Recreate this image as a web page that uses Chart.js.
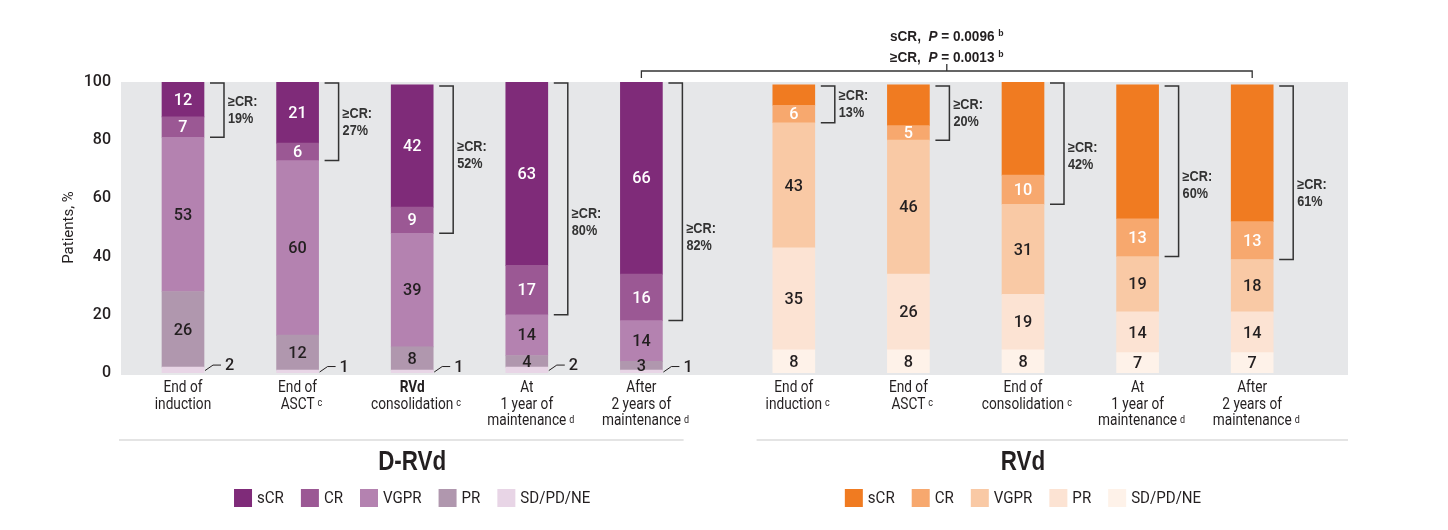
<!DOCTYPE html>
<html><head><meta charset="utf-8">
<script src="https://cdn.jsdelivr.net/npm/chart.js@4.4.0/dist/chart.umd.min.js"></script>
<style>html,body{margin:0;padding:0;background:#fff}#wrap{width:1448px;height:530px;position:relative}</style>
</head><body><div id="wrap"><canvas id="c"></canvas></div>
<script>
// ---------- DATA ----------
const groupNames = ['D-RVd', 'RVd'];
const seriesNames = ['sCR', 'CR', 'VGPR', 'PR', 'SD/PD/NE'];
const drCategories = [['End of', 'induction'], ['End of', 'ASCT'], ['RVd', 'consolidation'], ['At', '1 year of', 'maintenance'], ['After', '2 years of', 'maintenance']];
const drFootnotes = ['', 'c', 'c', 'd', 'd'];
const rvCategories = [['End of', 'induction'], ['End of', 'ASCT'], ['End of', 'consolidation'], ['At', '1 year of', 'maintenance'], ['After', '2 years of', 'maintenance']];
const rvFootnotes = ['c', 'c', 'c', 'd', 'd'];
const drSCR = [12, 21, 42, 63, 66];
const drCR = [7, 6, 9, 17, 16];
const drVGPR = [53, 60, 39, 14, 14];
const drPR = [26, 12, 8, 4, 3];
const drSD = [2, 1, 1, 2, 1];
const rvSCR = [7, 14, 32, 46, 47];
const rvCR = [6, 5, 10, 13, 13];
const rvVGPR = [43, 46, 31, 19, 18];
const rvPR = [35, 26, 19, 14, 14];
const rvSD = [8, 8, 8, 7, 7];
const drGeCR = [19, 27, 52, 80, 82];
const rvGeCR = [13, 20, 42, 60, 61];
const yTicks = [0, 20, 40, 60, 80, 100];
const pTests = [['sCR', '0.0096', 'b'], ['≥CR', '0.0013', 'b']];

// ---------- STYLE / LAYOUT ----------
const FF = "Roboto, 'Liberation Sans', Arial, sans-serif";
const FF2 = "'Liberation Sans', Arial, sans-serif";
const DARK = '#231f20';
const drColors = ['#7f2b79', '#9b5894', '#b482b0', '#b097ae', '#e8d5e6'];
const rvColors = ['#f07b21', '#f7a86e', '#f9c9a5', '#fce3d3', '#fef2e9'];
const GROUP_GAP = 0.33;
const BAR_W = 42;
const crLabelShift = [[0, 0, -4, 23, 35], [0, 0, 13, 14, 20]]; // px, annotation text placement

const xA = drSCR.map((_, i) => i);
const xB = rvSCR.map((_, i) => i + drSCR.length + GROUP_GAP);

function mk(label, vals, xs, color, group, key, lab) {
  return { label, data: vals.map((v, i) => ({ x: xs[i], y: v })), backgroundColor: color,
    borderWidth: 0, barThickness: BAR_W, stack: 's', group, key, lab };
}
const datasets = [
  mk('SD/PD/NE', drSD, xA, drColors[4], 0, 'SD', 'outside'),
  mk('PR', drPR, xA, drColors[3], 0, 'PR', DARK),
  mk('VGPR', drVGPR, xA, drColors[2], 0, 'VGPR', DARK),
  mk('CR', drCR, xA, drColors[1], 0, 'CR', '#fff'),
  mk('sCR', drSCR, xA, drColors[0], 0, 'sCR', '#fff'),
  mk('SD/PD/NE', rvSD, xB, rvColors[4], 1, 'SD', DARK),
  mk('PR', rvPR, xB, rvColors[3], 1, 'PR', DARK),
  mk('VGPR', rvVGPR, xB, rvColors[2], 1, 'VGPR', DARK),
  mk('CR', rvCR, xB, rvColors[1], 1, 'CR', '#fff'),
  mk('sCR', rvSCR, xB, rvColors[0], 1, 'sCR', null),
];

function font(o) { return (o.style || 'normal') + ' ' + (o.weight || 'normal') + ' ' + o.size + 'px ' + (o.family || FF); }
// text style with horizontal scale calibrated so that a sample string gets a target width
function calib(ctx, o, sample, target) {
  ctx.save(); ctx.font = font(o); const w = ctx.measureText(sample).width; ctx.restore();
  return { ...o, sx: target / w };
}
function measure(ctx, s, o) {
  ctx.save(); ctx.font = font(o);
  const w = ctx.measureText(s).width * (o.sx || 1); ctx.restore(); return w;
}
function txt(ctx, s, x, y, o) {
  const sx = o.sx || 1;
  ctx.save();
  ctx.font = font(o);
  ctx.fillStyle = o.color || DARK;
  ctx.textBaseline = 'middle'; ctx.textAlign = 'left';
  const w = ctx.measureText(s).width * sx;
  const x0 = o.align === 'center' ? x - w / 2 : o.align === 'right' ? x - w : x;
  ctx.translate(x0, y); ctx.scale(sx, 1); ctx.fillText(s, 0, 0);
  ctx.restore();
  return w;
}

const bgPlugin = {
  id: 'bg',
  beforeDraw(chart) {
    const { ctx, chartArea: a } = chart;
    ctx.save();
    ctx.fillStyle = '#fff'; ctx.fillRect(0, 0, chart.width, chart.height);
    ctx.fillStyle = '#e6e7e9'; ctx.fillRect(a.left, a.top, a.right - a.left, a.bottom - a.top + 2);
    ctx.restore();
  }
};

function findMeta(chart, group, key) {
  const i = chart.data.datasets.findIndex(d => d.group === group && d.key === key);
  return chart.getDatasetMeta(i);
}

const annoPlugin = {
  id: 'anno',
  afterDatasetsDraw(chart) {
    const ctx = chart.ctx;
    const VAL = calib(ctx, { size: 17, weight: '500' }, '53', 18.5);
    ctx.save();
    // value labels
    chart.data.datasets.forEach((ds, di) => {
      if (!ds.lab) return;
      const meta = chart.getDatasetMeta(di);
      meta.data.forEach((el, i) => {
        const v = ds.data[i].y;
        const yMid = (el.y + el.base) / 2;
        if (ds.lab === 'outside') {
          const r = el.x + BAR_W / 2;
          ctx.strokeStyle = DARK; ctx.lineWidth = 1;
          ctx.beginPath(); ctx.moveTo(r + 1, yMid + 0.5); ctx.lineTo(r + 9, yMid - 5); ctx.lineTo(r + 17, yMid - 5); ctx.stroke();
          txt(ctx, String(v), r + 21, yMid - 4, VAL);
        } else {
          txt(ctx, String(v), el.x, yMid + 1, { ...VAL, color: ds.lab, align: 'center' });
        }
      });
    });
    // >=CR brackets
    const CRF = calib(ctx, { size: 14, weight: 'bold', family: FF2, color: '#333' }, '≥CR:', 29.5);
    [drGeCR, rvGeCR].forEach((vals, g) => {
      const top = findMeta(chart, g, 'sCR'), cr = findMeta(chart, g, 'CR');
      vals.forEach((v, i) => {
        const elT = top.data[i], elC = cr.data[i];
        const r = elT.x + BAR_W / 2;
        const y1 = elT.y + 1, y2 = elC.base;
        ctx.strokeStyle = '#333'; ctx.lineWidth = 1.5;
        ctx.beginPath(); ctx.moveTo(r + 6, y1); ctx.lineTo(r + 20, y1); ctx.lineTo(r + 20, y2); ctx.lineTo(r + 6, y2); ctx.stroke();
        const ym = (y1 + y2) / 2 + crLabelShift[g][i];
        txt(ctx, '≥CR:', r + 24, ym - 8, CRF);
        txt(ctx, v + '%', r + 24, ym + 9, CRF);
      });
    });
    ctx.restore();
  },
  afterDraw(chart) {
    const ctx = chart.ctx, xs = chart.scales.x, a = chart.chartArea;
    ctx.save();
    // category labels
    const LAB = calib(ctx, { size: 16.5 }, 'maintenance', 79);
    [[drCategories, drFootnotes, xA], [rvCategories, rvFootnotes, xB]].forEach(([cats, fns, xsv], g) => {
      cats.forEach((lines, i) => {
        const cx = xs.getPixelForValue(xsv[i]);
        lines.forEach((t, k) => {
          const bold = g === 0 && t === 'RVd';
          const y = 388 + k * 16.5;
          const w = txt(ctx, t, cx, y, { ...LAB, weight: bold ? 'bold' : 'normal', align: 'center' });
          if (k === lines.length - 1 && fns[i]) {
            txt(ctx, fns[i], cx + w / 2 + 3, y - 1, { size: 10, sx: 0.9 });
          }
        });
      });
    });
    // group separators, titles, legends
    const gMid = (xs.getPixelForValue(xA[xA.length - 1]) + xs.getPixelForValue(xB[0])) / 2;
    ctx.fillStyle = '#e4e4e4';
    ctx.fillRect(a.left - 2, 439, gMid - 34 - (a.left - 2), 2);
    ctx.fillRect(gMid + 39, 439, a.right - (gMid + 39), 2);
    const LEG = calib(ctx, { size: 17 }, 'SD/PD/NE', 70);
    const TTL = calib(ctx, { size: 28, weight: 'bold', family: FF2 }, 'D-RVd', 68);
    [[xA, drColors], [xB, rvColors]].forEach(([xsv, cols], g) => {
      const c = (xs.getPixelForValue(xsv[0]) + xs.getPixelForValue(xsv[xsv.length - 1])) / 2;
      txt(ctx, groupNames[g], c, 462, { ...TTL, align: 'center' });
      const widths = seriesNames.map(s => measure(ctx, s, LEG));
      const total = widths.reduce((s, w) => s + 18 + 5 + w, 0) + 17 * (seriesNames.length - 1);
      let x = c - total / 2;
      seriesNames.forEach((s, k) => {
        ctx.fillStyle = cols[k]; ctx.fillRect(x, 489, 18, 18);
        txt(ctx, s, x + 23, 499, LEG);
        x += 18 + 5 + widths[k] + 17;
      });
    });
    // comparison bracket
    const xl = xs.getPixelForValue(xA[xA.length - 1]), xr = xs.getPixelForValue(xB[xB.length - 1]);
    const xm = (xl + xr) / 2;
    ctx.strokeStyle = '#333'; ctx.lineWidth = 1.3;
    ctx.beginPath(); ctx.moveTo(xl, 78); ctx.lineTo(xl, 71); ctx.lineTo(xr, 71); ctx.lineTo(xr, 78);
    ctx.moveTo(xm, 71); ctx.lineTo(xm, 64); ctx.stroke();
    const PB = { size: 14, weight: 'bold', family: FF2, sx: 0.97 };
    pTests.forEach(([lab, p, fn], k) => {
      const parts = [
        [lab + ',  ', PB],
        ['P', { ...PB, style: 'italic' }],
        [' = ' + p + ' ', PB],
        [fn, { ...PB, size: 9, dy: -3 }]
      ];
      const total = parts.reduce((s, [t, o]) => s + measure(ctx, t, o), 0);
      let x = xm - total / 2;
      const y = 37 + k * 21;
      parts.forEach(([t, o]) => { x += txt(ctx, t, x, y + (o.dy || 0), o); });
    });
    ctx.restore();
  }
};

new Chart(document.getElementById('c'), {
  type: 'bar',
  data: { datasets },
  plugins: [bgPlugin, annoPlugin],
  options: {
    responsive: true, maintainAspectRatio: false, animation: false, events: [],
    layout: { padding: { left: 0, right: 100, top: 82, bottom: 157 } },
    plugins: { legend: { display: false }, tooltip: { enabled: false } },
    scales: {
      x: { type: 'linear', display: false, stacked: true, offset: false, min: -0.541, max: 10.166 },
      y: {
        stacked: true, min: 0, max: 100,
        afterBuildTicks: s => { s.ticks = yTicks.map(v => ({ value: v })); },
        afterFit: s => { s.width = 121; },
        ticks: { padding: 10, color: DARK, font: { family: FF, size: 16, weight: '500' } },
        grid: { display: false, drawTicks: false },
        border: { display: false },
        title: { display: true, text: 'Patients, %', color: DARK, font: { family: FF, size: 15 }, padding: { top: 60, bottom: 0 } }
      }
    }
  }
});
</script></body></html>
